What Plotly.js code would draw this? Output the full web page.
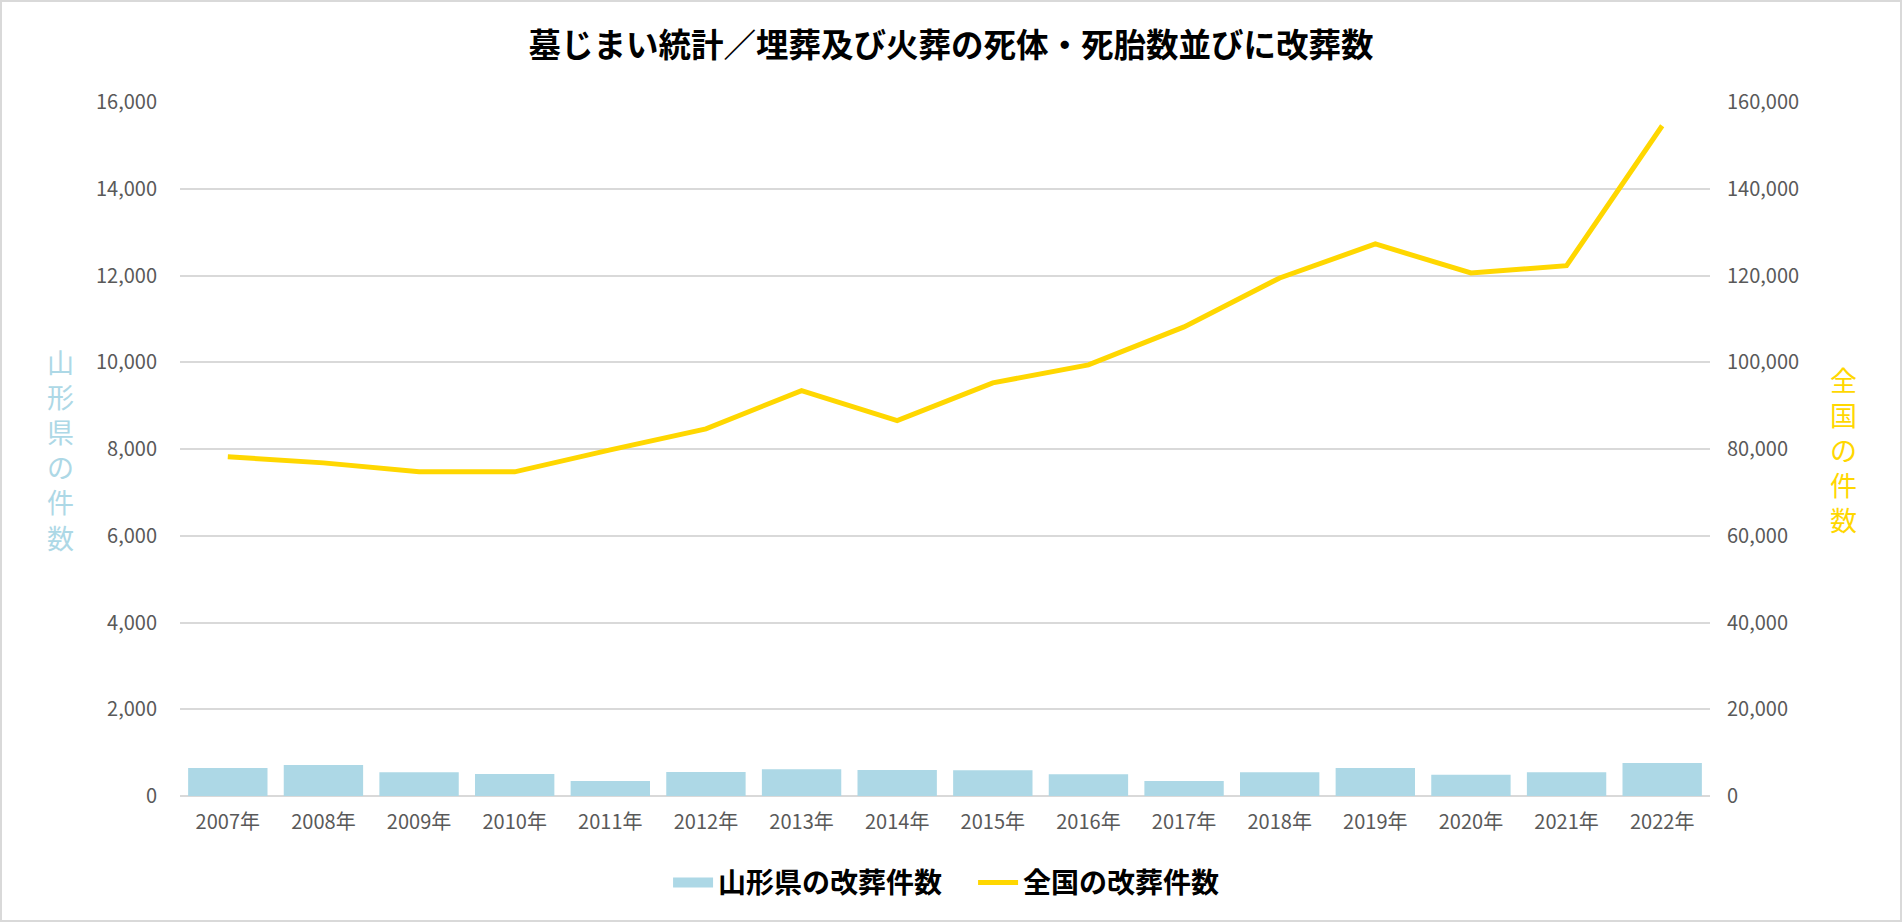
<!DOCTYPE html>
<html><head><meta charset="utf-8">
<script src="https://cdn.plot.ly/plotly-3.0.1.min.js"></script>
<style>
html,body{margin:0;padding:0;background:#fff;}
#wrap{width:1898px;height:918px;border:2px solid #d9d9d9;}
#chart{width:1898px;height:918px;}
</style></head>
<body><div id="wrap"><div id="chart"></div></div>
<script>
const years = ["2007年","2008年","2009年","2010年","2011年","2012年","2013年","2014年","2015年","2016年","2017年","2018年","2019年","2020年","2021年","2022年"];
const yamagata = [646, 715, 546, 508, 346, 554, 615, 600, 592, 500, 346, 546, 646, 492, 546, 761];
const national = [78200, 76800, 74740, 74740, 79800, 84650, 93470, 86560, 95250, 99400, 108150, 119440, 127270, 120590, 122270, 154530];
const leftTicks = [0, 2000, 4000, 6000, 8000, 10000, 12000, 14000, 16000];
const rightTicks = [0, 20000, 40000, 60000, 80000, 100000, 120000, 140000, 160000];
const titleText = "墓じまい統計／埋葬及び火葬の死体・死胎数並びに改葬数";
const leftTitle = "山形県の件数";
const rightTitle = "全国の件数";
const barName = "山形県の改葬件数";
const lineName = "全国の改葬件数";

const CJK = '"Noto Sans CJK JP", "Noto Sans", sans-serif';
const tickFont = {family: CJK, size: 20, color: '#595959'};
const barColor = '#add8e6';
const lineColor = '#ffd700';

const data = [
  {type:'bar', x: years, y: yamagata, name: barName, marker:{color:barColor}, yaxis:'y', showlegend:false, legendgroup:'bar'},
  // legend entry for the bars, drawn as a wide block like the reference
  {type:'scatter', mode:'lines', x:[null], y:[null], name: barName, line:{color:barColor, width:15}, yaxis:'y', legendgroup:'bar', hoverinfo:'skip'},
  {type:'scatter', mode:'lines', x: years, y: national, name: lineName, line:{color:lineColor, width:5}, yaxis:'y2'}
];

const layout = {
  width: 1898, height: 918,
  margin: {l:178, r:190, t:100, b:124},
  paper_bgcolor:'#fff', plot_bgcolor:'#fff',
  title: {text: '<b>'+titleText+'</b>', font:{family:CJK, size:32.5, color:'#000'}, x:0.5, xanchor:'center', y:0.953, yanchor:'middle'},
  bargap: 0.17,
  showlegend: true,
  legend: {orientation:'h', x:0.319, xanchor:'left', y:-0.125, yanchor:'middle', font:{family:CJK, size:28, color:'#000', weight:'bold'}, itemwidth:40, entrywidth:250, entrywidthmode:'pixels'},
  xaxis: {type:'category', tickfont: tickFont, showgrid:false, showline:false, zeroline:false, ticks:'', ticklabelstandoff: 12},
  yaxis: {range:[0,16000], tickvals:leftTicks, tickformat:',d', tickfont:tickFont, gridcolor:'#d9d9d9', gridwidth:1.5, zeroline:true, zerolinecolor:'#d9d9d9', zerolinewidth:2, showline:false, ticks:'', ticklabelstandoff: 22},
  yaxis2: {range:[0,160000], tickvals:rightTicks, tickformat:',d', tickfont:tickFont, overlaying:'y', side:'right', showgrid:false, zeroline:false, showline:false, ticks:'', ticklabelstandoff: 16},
  annotations: [
    {xref:'paper', yref:'paper', x:-0.078, y:0.5, xanchor:'center', yanchor:'middle', showarrow:false,
     text: leftTitle.split('').join('<br>'), font:{family:CJK, size:27, color:barColor}},
    {xref:'paper', yref:'paper', x:1.087, y:0.5, xanchor:'center', yanchor:'middle', showarrow:false,
     text: rightTitle.split('').join('<br>'), font:{family:CJK, size:27, color:lineColor}}
  ]
};
Plotly.newPlot('chart', data, layout, {displayModeBar:false, responsive:false});
</script></body></html>
